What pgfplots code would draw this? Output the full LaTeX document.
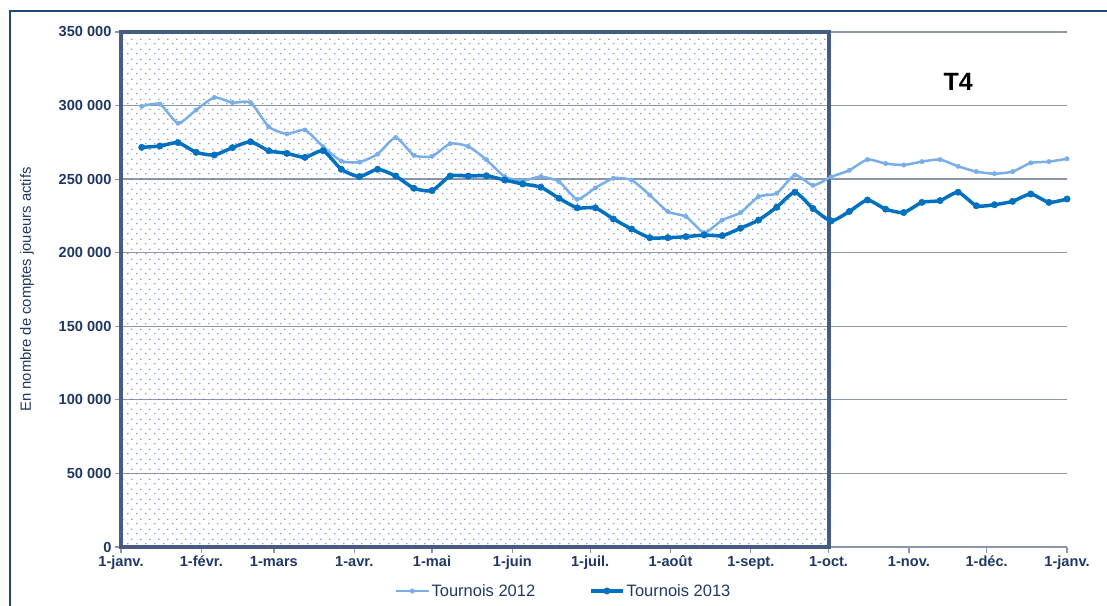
\documentclass[border=0pt]{standalone}
\usepackage{fontspec}
\setmainfont{Liberation Sans}
\usepackage{pgfplots}
\pgfplotsset{compat=1.18}
\usetikzlibrary{patterns}
\definecolor{lightc}{RGB}{122,174,232}
\definecolor{darkc}{RGB}{0,112,192}
\definecolor{navy}{RGB}{31,56,100}
\definecolor{framec}{RGB}{31,73,125}
\definecolor{boxc}{RGB}{70,92,132}
\definecolor{gridc}{RGB}{140,150,172}
\definecolor{dotc}{RGB}{80,120,200}
\pgfdeclarepatternformonly{mydots}{\pgfqpoint{0bp}{0bp}}{\pgfqpoint{9bp}{10bp}}{\pgfqpoint{9bp}{10bp}}{%
  \pgfpathcircle{\pgfqpoint{2bp}{2.5bp}}{0.8bp}%
  \pgfpathcircle{\pgfqpoint{6.5bp}{7.5bp}}{0.8bp}%
  \pgfusepath{fill}}

\pgfplotstableread{
x y
8 299500
15 301000
22 288000
29 297000
36 305500
43 302000
50 302000
57 285600
64 280700
71 283400
78 272000
85 262300
92 261600
99 267000
106 278300
113 266200
120 265500
127 274100
134 272200
141 263200
148 251700
155 249000
162 251700
169 248300
176 236300
183 244000
190 250600
197 249400
204 239200
211 227900
218 224500
225 213600
232 222200
239 227200
246 238100
253 240400
260 252800
267 245800
274 251500
281 256000
288 263300
295 260600
302 259600
309 261900
316 263300
323 258700
330 255100
337 253700
344 255100
351 261000
358 261900
365 263800
}\tdouze

\pgfplotstableread{
x y
8 271600
15 272500
22 274800
29 268200
36 266400
43 271400
50 275400
57 269300
64 267500
71 264800
78 269300
85 256700
92 251700
99 256700
106 252100
113 243800
120 242200
127 252100
134 252100
141 252300
148 249400
155 246700
162 244500
169 237000
176 230500
183 230500
190 222900
197 216100
204 210200
211 210200
218 210900
225 212000
232 211600
239 216600
246 222200
253 230900
260 241100
267 230000
274 221600
281 228000
288 235800
295 229600
302 227300
309 234200
316 235400
323 241100
330 231900
337 232600
344 234900
351 239900
358 234200
365 236500
}\ttreize

\begin{document}
\begin{tikzpicture}[x=1bp,y=1bp]
\useasboundingbox (0,0) rectangle (1107,606);
\draw[framec, line width=2.4bp] (10,-5) -- (10,595) -- (1115,595);
\begin{axis}[
  at={(121bp,59bp)}, anchor=south west,
  scale only axis, width=946bp, height=515bp,
  xmin=0, xmax=365, ymin=0, ymax=350000,
  axis x line=bottom, axis y line=left,
  axis line style={gridc, line width=1.5bp, -},
  tick align=outside, major tick length=6bp,
  tick style={gridc, line width=1.2bp},
  xtick={0,31,59,90,120,151,181,212,243,273,304,334,365},
  xticklabels={1-janv.,1-févr.,1-mars,1-avr.,1-mai,1-juin,1-juil.,1-août,1-sept.,1-oct.,1-nov.,1-déc.,1-janv.},
  ytick={0,50000,100000,150000,200000,250000,300000,350000},
  yticklabels={0,50 000,100 000,150 000,200 000,250 000,300 000,350 000},
  scaled y ticks=false,
  ymajorgrids, grid style={gridc, line width=1.3bp},
  ticklabel style={font=\fontsize{14.6bp}{16bp}\selectfont\bfseries, text=navy},
  xticklabel style={text height=11bp, text depth=3bp, yshift=1bp},
  ylabel={En nombre de comptes joueurs actifs},
  ylabel style={at={(axis description cs:-0.0992,0.5)}, anchor=center, font=\fontsize{14.8bp}{16bp}\selectfont, text=navy},
  legend style={at={(axis description cs:0.468,-0.0854)}, anchor=center, legend columns=2, draw=none, fill=none,
    font=\fontsize{16.5bp}{18bp}\selectfont, text=navy,
    /tikz/every even column/.append style={column sep=52bp},
    nodes={inner xsep=2bp}},
  legend cell align=left,
  legend image code/.code={\draw[mark repeat=2, mark phase=2, #1] plot coordinates {(0bp,0bp) (16bp,0bp) (32bp,0bp)};},
  clip=false,
]
\fill[pattern=mydots, pattern color=dotc] (axis cs:0,0) rectangle (axis cs:273,350000);
\draw[boxc, line width=4bp] (axis cs:0,0) rectangle (axis cs:273,350000);
\addplot[lightc, line width=2.5bp, smooth, tension=0.35, mark=*, mark size=2.2bp, mark options={fill=lightc, draw=lightc, line width=0.5bp}] table[x=x,y=y] {\tdouze};
\addlegendentry{Tournois 2012}
\addplot[darkc, line width=3.5bp, smooth, tension=0.35, mark=*, mark size=3.2bp, mark options={fill=darkc, draw=darkc, line width=0.5bp}] table[x=x,y=y] {\ttreize};
\addlegendentry{Tournois 2013}
\node[font=\fontsize{25bp}{28bp}\selectfont\bfseries, text=black] at (axis cs:323,316000) {T4};
\end{axis}
\end{tikzpicture}
\end{document}
